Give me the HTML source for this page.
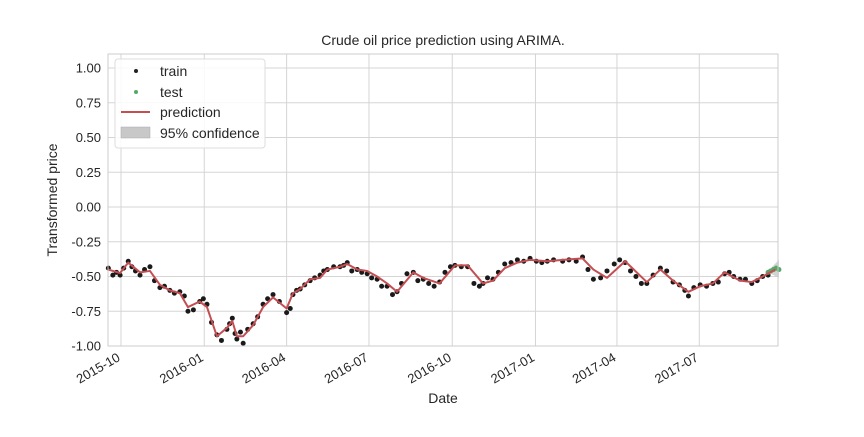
<!DOCTYPE html>
<html><head><meta charset="utf-8"><style>
body{margin:0;background:#fff}
svg text{font-family:"Liberation Sans",Arial,sans-serif;fill:#262626}
</style></head><body>
<svg id="chart" width="864" height="432" xmlns="http://www.w3.org/2000/svg">
<rect width="864" height="432" fill="#fff"/>
<g id="grid"></g>
<g id="marks"></g>
<rect x="108" y="54" width="670" height="292" fill="none" stroke="#cccccc" stroke-width="1"/>
<g id="ticks"></g>
<text x="443" y="45" font-size="14" text-anchor="middle">Crude oil price prediction using ARIMA.</text>
<text x="443" y="403" font-size="14" text-anchor="middle">Date</text>
<text x="57" y="200" font-size="14" text-anchor="middle" transform="rotate(-90 57 200)">Transformed price</text>
<g>
<rect x="115" y="59" width="150" height="89" rx="3" fill="#fff" fill-opacity="0.85" stroke="#dddddd"/>
<g><circle cx="136" cy="71" r="2" fill="#222"/><text x="160" y="76" font-size="14">train</text></g>
<g><circle cx="136" cy="92" r="2" fill="#55a868"/><text x="160" y="97" font-size="14">test</text></g>
<g><line x1="121" y1="112" x2="150" y2="112" stroke="#c44e52" stroke-width="2"/><text x="160" y="117" font-size="14">prediction</text></g>
<g><rect x="121" y="127" width="29" height="11" fill="#c8c8c8" stroke="#aaa" stroke-width="0.5"/><text x="160" y="138" font-size="14">95% confidence</text></g>
</g>
</svg>
<script>
const predDays=[-14,-1,8,21,32,43,54,65,74,87,95,106,117,123,128,135,146,157,168,183,190,198,209,220,228,242,250,261,272,283,294,305,323,334,352,369,383,400,411,424,438,452,471,488,510,522,537,557,581,596,610,627,640,654,667,684,697,709,723];
const predVals=[-0.45,-0.475,-0.40,-0.47,-0.46,-0.56,-0.60,-0.62,-0.72,-0.68,-0.72,-0.93,-0.87,-0.82,-0.93,-0.93,-0.85,-0.72,-0.65,-0.73,-0.62,-0.59,-0.52,-0.51,-0.45,-0.43,-0.41,-0.45,-0.46,-0.50,-0.55,-0.61,-0.47,-0.51,-0.55,-0.42,-0.42,-0.55,-0.53,-0.44,-0.40,-0.38,-0.39,-0.38,-0.37,-0.45,-0.51,-0.39,-0.54,-0.45,-0.53,-0.61,-0.57,-0.55,-0.47,-0.53,-0.54,-0.50,-0.45];
const trainDays=[-14,-9,-5,-1,3,8,12,16,21,26,32,37,43,48,54,59,65,70,74,80,87,91,95,100,106,111,117,120,123,126,128,132,135,140,146,151,157,162,168,175,183,187,190,194,198,203,209,214,220,224,228,235,242,246,250,255,261,266,272,277,283,288,294,300,305,310,316,323,328,334,340,346,352,358,364,369,376,383,390,396,400,405,411,417,424,431,438,445,452,459,465,471,478,488,495,503,510,516,522,530,537,545,551,557,563,569,575,581,588,596,603,610,617,623,627,633,640,647,654,660,667,672,677,684,690,697,703,709,715];
const trainVals=[-0.44,-0.49,-0.47,-0.49,-0.44,-0.39,-0.43,-0.46,-0.49,-0.45,-0.43,-0.53,-0.58,-0.57,-0.60,-0.62,-0.61,-0.64,-0.75,-0.74,-0.68,-0.66,-0.70,-0.83,-0.92,-0.96,-0.88,-0.84,-0.80,-0.91,-0.95,-0.90,-0.98,-0.88,-0.84,-0.79,-0.70,-0.66,-0.63,-0.68,-0.76,-0.73,-0.63,-0.60,-0.59,-0.56,-0.53,-0.51,-0.49,-0.46,-0.45,-0.43,-0.43,-0.42,-0.40,-0.46,-0.45,-0.47,-0.48,-0.51,-0.52,-0.57,-0.57,-0.63,-0.61,-0.55,-0.48,-0.47,-0.53,-0.52,-0.55,-0.57,-0.54,-0.47,-0.43,-0.42,-0.43,-0.43,-0.55,-0.57,-0.55,-0.51,-0.52,-0.47,-0.41,-0.40,-0.38,-0.39,-0.37,-0.39,-0.40,-0.39,-0.38,-0.39,-0.38,-0.39,-0.36,-0.45,-0.52,-0.51,-0.46,-0.41,-0.38,-0.40,-0.46,-0.50,-0.55,-0.55,-0.49,-0.44,-0.46,-0.54,-0.56,-0.60,-0.64,-0.58,-0.56,-0.57,-0.55,-0.54,-0.48,-0.47,-0.50,-0.52,-0.52,-0.55,-0.53,-0.50,-0.49];
const testDays=[715,718,721,724,727];
const testVals=[-0.47,-0.46,-0.45,-0.44,-0.45];
const confUpper=[-0.45,-0.44,-0.42,-0.40,-0.38];
const confLower=[-0.47,-0.48,-0.49,-0.50,-0.51];
const yTicks=[1.00,0.75,0.50,0.25,0.00,-0.25,-0.50,-0.75,-1.00];
const xTickDays=[0,92,183,274,366,458,548,639];
const xTickLabels=["2015-10","2016-01","2016-04","2016-07","2016-10","2017-01","2017-04","2017-07"];

const NS="http://www.w3.org/2000/svg";
const X0=108,X1=778,Y0=54,Y1=346;
function xs(d){return 121+d*0.905;}
function ys(v){return 207-139*v;}
function mk(tag,attrs,parent){const e=document.createElementNS(NS,tag);for(const k in attrs)e.setAttribute(k,attrs[k]);parent.appendChild(e);return e;}
const grid=document.getElementById('grid'),marks=document.getElementById('marks'),ticks=document.getElementById('ticks');
yTicks.forEach(v=>{
  const l=mk('line',{x1:X0,x2:X1,y1:ys(v),y2:ys(v),stroke:'#d5d5d5','stroke-width':1},grid);
  
  
  const t=mk('text',{x:101,y:ys(v)+4.5,'font-size':13,'text-anchor':'end'},ticks);
  t.textContent=v.toFixed(2);
  
  
});
xTickDays.forEach((d,i)=>{
  const x=xs(d);
  const l=mk('line',{x1:x,x2:x,y1:Y0,y2:Y1,stroke:'#d5d5d5','stroke-width':1},grid);
  
  
  const t=mk('text',{x:x,y:Y1+14,'font-size':13,'text-anchor':'end',transform:`rotate(-30 ${x} ${Y1+14})`},ticks);
  t.textContent=xTickLabels[i];
  
  
});
let band='M'+testDays.map((d,i)=>xs(d)+','+ys(confUpper[i])).join('L')+'L'+testDays.slice().reverse().map((d,i)=>xs(d)+','+ys(confLower[testDays.length-1-i])).join('L')+'Z';
const b=mk('path',{d:band,fill:'#c8c8c8','fill-opacity':0.8},marks);


trainDays.forEach((d,i)=>{
  const c=mk('circle',{cx:xs(d),cy:ys(trainVals[i]),r:2.5,fill:'#1a1a1a'},marks);
  
  
});
testDays.forEach((d,i)=>{
  const c=mk('circle',{cx:xs(d),cy:ys(testVals[i]),r:2.5,fill:'#55a868'},marks);
  
  
});
const p=mk('path',{d:'M'+predDays.map((d,i)=>xs(d)+','+ys(predVals[i])).join('L'),fill:'none',stroke:'#c44e52','stroke-width':2,'stroke-linejoin':'round'},marks);


</script>
</body></html>
